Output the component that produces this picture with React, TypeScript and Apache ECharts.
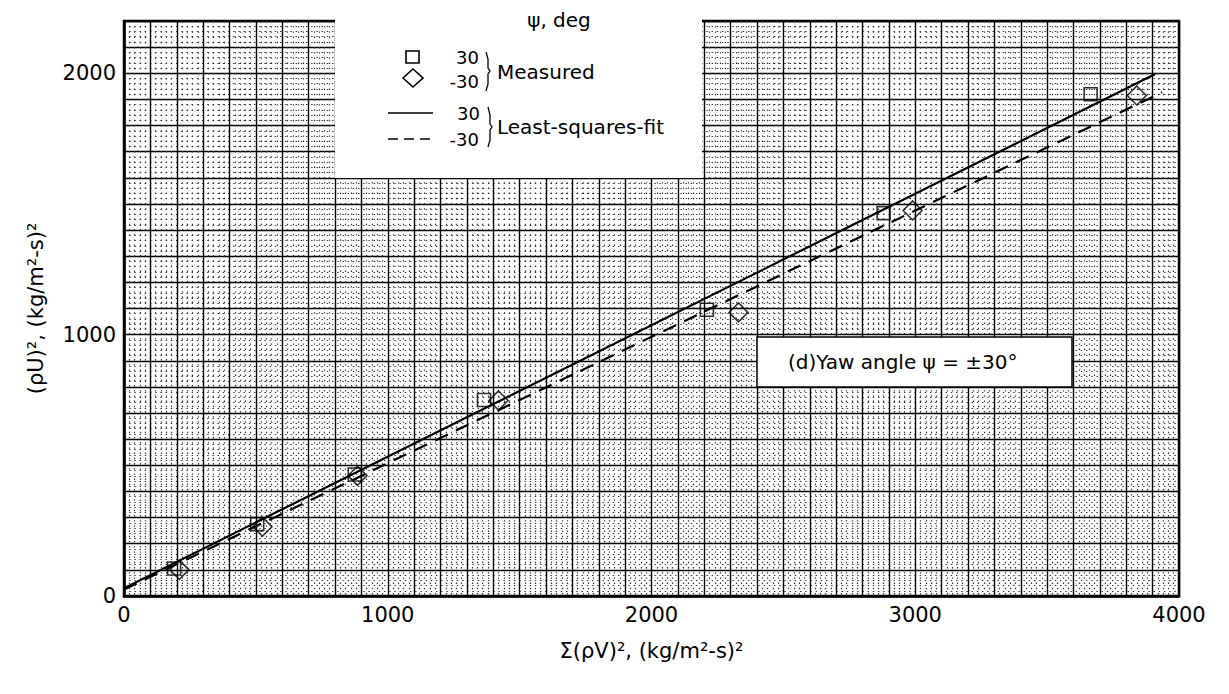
import React, { useEffect, useRef } from "react";
import * as echarts from "echarts";

const W = 1229;
const H = 694;

// Measured points, yaw angle +30 deg (squares) and -30 deg (diamonds)
const measuredPos30: number[][] = [
  [190, 105], [505, 275], [875, 465], [1365, 750], [2210, 1095], [2880, 1465], [3665, 1920],
];
const measuredNeg30: number[][] = [
  [210, 100], [525, 265], [885, 460], [1420, 748], [2330, 1085], [2990, 1475], [3840, 1915],
];
// Least-squares fits
const fitPos30: number[][] = [[0, 30], [3910, 1997]];
const fitNeg30: number[][] = [[0, 25], [3936, 1927]];

const xTicks = [0, 1000, 2000, 3000, 4000];
const yTicks = [0, 1000, 2000];

const FONT = "DejaVu Sans";

export default function App() {
  const ref = useRef<HTMLDivElement>(null);
  useEffect(() => {
    if (!ref.current) return;
    const chart = echarts.init(ref.current, null, { renderer: "svg" });
    const majorLine = { show: true, lineStyle: { color: "#000", width: 1.4 } };
    const minorLine = { show: true, lineStyle: { color: "#333", width: 1.2, type: [1.4, 3.8] } };
    const txt = (text: string, x: number, y: number, align = "left", size = 20) => ({
      type: "text",
      x,
      y,
      z: 101,
      style: { text, fill: "#000", font: `${size}px "${FONT}"`, textAlign: align, textVerticalAlign: "middle" },
    });
    chart.setOption({
      animation: false,
      backgroundColor: "#fff",
      grid: {
        left: 124, right: W - 1179, top: 21, bottom: H - 596,
        show: true, borderColor: "#000", borderWidth: 2.5, backgroundColor: "transparent",
      },
      xAxis: {
        type: "value", min: 0, max: 4000, interval: 100,
        name: "Σ(ρV)², (kg/m²-s)²", nameLocation: "middle", nameGap: 44,
        nameTextStyle: { fontFamily: FONT, fontSize: 21, color: "#000" },
        axisLine: { show: true, lineStyle: { color: "#000", width: 2.5 } },
        axisTick: { show: false },
        axisLabel: {
          fontFamily: FONT, fontSize: 21, color: "#000", margin: 8,
          formatter: (v: number) => (xTicks.includes(v) ? String(v) : ""),
        },
        splitLine: majorLine,
        minorTick: { show: false, splitNumber: 5 },
        minorSplitLine: minorLine,
      },
      yAxis: {
        type: "value", min: 0, max: 2200, interval: 100,
        name: "(ρU)², (kg/m²-s)²", nameLocation: "middle", nameGap: 78, nameRotate: 90,
        nameTextStyle: { fontFamily: FONT, fontSize: 21, color: "#000" },
        axisLine: { show: true, lineStyle: { color: "#000", width: 2.5 } },
        axisTick: { show: false },
        axisLabel: {
          fontFamily: FONT, fontSize: 21, color: "#000", margin: 8,
          formatter: (v: number) => (yTicks.includes(v) ? String(v) : ""),
        },
        splitLine: majorLine,
        minorTick: { show: false, splitNumber: 5 },
        minorSplitLine: minorLine,
      },
      series: [
        {
          type: "line", data: fitPos30, symbol: "none", silent: true,
          lineStyle: { color: "#000", width: 2.2 }, z: 3,
        },
        {
          type: "line", data: fitNeg30, symbol: "none", silent: true,
          lineStyle: { color: "#000", width: 2.2, type: [14, 9] }, z: 3,
        },
        {
          type: "scatter", data: measuredPos30, symbol: "rect", symbolSize: 13,
          itemStyle: { color: "transparent", borderColor: "#000", borderWidth: 1.6 }, z: 4,
        },
        {
          type: "scatter", data: measuredNeg30, symbol: "diamond", symbolSize: 19,
          itemStyle: { color: "transparent", borderColor: "#000", borderWidth: 1.6 }, z: 4,
        },
      ],
      graphic: [
        // legend panel (blank area cut out of the grid)
        { type: "rect", z: 100, shape: { x: 335, y: 0, width: 367, height: 178 }, style: { fill: "#fff" } },
        txt("ψ, deg", 559, 20, "center", 20),
        { type: "rect", z: 101, shape: { x: 406, y: 51, width: 13, height: 12 }, style: { fill: "none", stroke: "#000", lineWidth: 1.6 } },
        txt("30", 479, 57, "right", 18),
        {
          type: "polygon", z: 101,
          shape: { points: [[413, 69], [423, 78], [413, 87], [403, 78]] },
          style: { fill: "none", stroke: "#000", lineWidth: 1.6 },
        },
        txt("-30", 479, 81, "right", 18),
        {
          type: "polyline", z: 101,
          shape: { points: [[486, 52], [488, 59], [488, 68], [490, 71], [488, 74], [488, 84], [486, 91]] },
          style: { stroke: "#000", lineWidth: 1.3, fill: "none" },
        },
        txt("Measured", 497, 72, "left", 20),
        { type: "line", z: 101, shape: { x1: 388, y1: 113, x2: 433, y2: 113 }, style: { stroke: "#000", lineWidth: 1.6 } },
        txt("30", 480, 113, "right", 18),
        { type: "line", z: 101, shape: { x1: 388, y1: 139, x2: 433, y2: 139 }, style: { stroke: "#000", lineWidth: 1.6, lineDash: [10, 6] } },
        txt("-30", 479, 139, "right", 18),
        {
          type: "polyline", z: 101,
          shape: { points: [[488, 107], [490, 115], [490, 124], [492, 127], [490, 130], [490, 140], [488, 147]] },
          style: { stroke: "#000", lineWidth: 1.3, fill: "none" },
        },
        txt("Least-squares-fit", 497, 127, "left", 20),
        // annotation box
        {
          type: "rect", z: 100, shape: { x: 757, y: 337, width: 315, height: 50 },
          style: { fill: "#fff", stroke: "#000", lineWidth: 1.5 },
        },
        txt("(d)Yaw angle ψ = ±30°", 788, 362, "left", 20),
      ],
    });
    return () => chart.dispose();
  }, []);
  return (
    <div
      ref={ref}
      style={{ position: "fixed", left: 0, top: 0, width: W, height: H, background: "#fff" }}
    />
  );
}
